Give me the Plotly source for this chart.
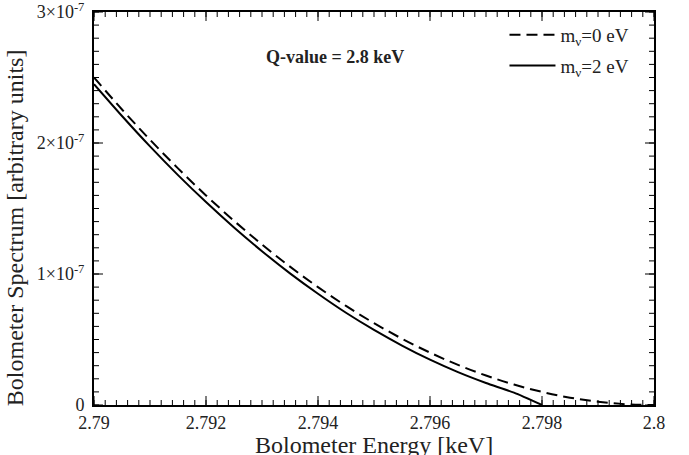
import numpy as np
import plotly.graph_objects as go

# Bolometer energy grid [keV]
energy = [2.7900, 2.7905, 2.7910, 2.7915, 2.7920, 2.7925, 2.7930, 2.7935, 2.7940,
          2.7945, 2.7950, 2.7955, 2.7960, 2.7965, 2.7970, 2.7975, 2.7980, 2.7985,
          2.7990, 2.7995, 2.8000]

# Spectrum for a massless neutrino (arbitrary units)
spec_m0 = [2.500e-7, 2.256e-7, 2.025e-7, 1.806e-7, 1.600e-7, 1.406e-7, 1.225e-7,
           1.056e-7, 0.900e-7, 0.756e-7, 0.625e-7, 0.506e-7, 0.400e-7, 0.306e-7,
           0.225e-7, 0.156e-7, 0.100e-7, 0.056e-7, 0.025e-7, 0.006e-7, 0.0]

# Spectrum for m_nu = 2 eV, ending at Q - m_nu
energy_m2 = [2.7900, 2.7905, 2.7910, 2.7915, 2.7920, 2.7925, 2.7930, 2.7935, 2.7940,
             2.7945, 2.7950, 2.7955, 2.7960, 2.7965, 2.7970, 2.7975, 2.7980]
spec_m2 = [2.449e-7, 2.206e-7, 1.974e-7, 1.755e-7, 1.549e-7, 1.355e-7, 1.174e-7,
           1.005e-7, 0.849e-7, 0.704e-7, 0.573e-7, 0.454e-7, 0.346e-7, 0.251e-7,
           0.168e-7, 0.094e-7, 0.0]

x_ticks = [2.790, 2.792, 2.794, 2.796, 2.798, 2.800]
x_labels = ["2.79", "2.792", "2.794", "2.796", "2.798", "2.8"]
y_ticks = [0, 1e-7, 2e-7, 3e-7]
y_labels = ["0", "1×10<sup>-7</sup>", "2×10<sup>-7</sup>", "3×10<sup>-7</sup>"]

FONT = "Liberation Serif"
TXT = "#222222"
MAJOR_LEN, MINOR_LEN = 9, 5

fig = go.Figure()
fig.add_trace(go.Scatter(
    x=energy, y=spec_m0, mode="lines", name="m<sub>ν</sub>=0 eV",
    legendgroup="a",
    line=dict(color="black", width=2, dash="11px,6px", shape="spline"),
))
fig.add_trace(go.Scatter(
    x=energy_m2, y=spec_m2, mode="lines", name="m<sub>ν</sub>=2 eV",
    legendgroup="b",
    line=dict(color="black", width=2, shape="spline", smoothing=0.6),
))

# Inward-pointing tick marks on all four sides of the frame
x_minor = np.linspace(x_ticks[0], x_ticks[-1], 5 * 10 + 1)
y_minor = np.linspace(y_ticks[0], y_ticks[-1], 3 * 10 + 1)
tick_line = dict(color="black", width=1)
shapes = []
for vals, length in ((x_minor, MINOR_LEN), (x_ticks, MAJOR_LEN)):
    for v in vals:
        for anchor, sign in ((0, 1), (1, -1)):
            shapes.append(dict(type="line", xref="x", yref="paper", x0=v, x1=v,
                               ysizemode="pixel", yanchor=anchor, y0=0, y1=sign * length,
                               line=tick_line, layer="above"))
for vals, length in ((y_minor, MINOR_LEN), (y_ticks, MAJOR_LEN)):
    for v in vals:
        for anchor, sign in ((0, 1), (1, -1)):
            shapes.append(dict(type="line", yref="y", xref="paper", y0=v, y1=v,
                               xsizemode="pixel", xanchor=anchor, x0=0, x1=sign * length,
                               line=tick_line, layer="above"))

axis_style = dict(showgrid=False, zeroline=False, showline=True, linecolor="black",
                  linewidth=2, mirror=True, ticks="", automargin=False,
                  ticklabeloverflow="allow",
                  tickfont=dict(family=FONT, size=18, color=TXT))

fig.update_layout(
    width=689, height=455,
    margin=dict(l=94, r=35, t=12, b=50),
    plot_bgcolor="white", paper_bgcolor="white",
    font=dict(family=FONT, size=18, color=TXT),
    xaxis=dict(range=[2.79, 2.8], tickmode="array", tickvals=x_ticks, ticktext=x_labels,
               ticklabelstandoff=0, **axis_style),
    yaxis=dict(range=[0, 3e-7], tickmode="array", tickvals=y_ticks, ticktext=y_labels,
               ticklabelstandoff=4, **axis_style),
    shapes=shapes,
    showlegend=True,
    legend=dict(x=0.733, y=0.99, xanchor="left", yanchor="top", tracegroupgap=3,
                itemwidth=46,
                bgcolor="rgba(0,0,0,0)", font=dict(family=FONT, size=19, color=TXT)),
    annotations=[
        dict(x=0.431, y=0.8855, xref="paper", yref="paper", xanchor="center",
             yanchor="middle", showarrow=False,
             text="<b>Q-value = 2.8 keV</b>", font=dict(family=FONT, size=18, color=TXT)),
        dict(x=0.5, y=0, xref="paper", yref="paper", yanchor="middle", yshift=-40,
             showarrow=False, text="Bolometer Energy [keV]",
             font=dict(family=FONT, size=24, color=TXT)),
        dict(x=0, y=0.45, xref="paper", yref="paper", xanchor="center", yanchor="middle",
             xshift=-79, textangle=-90, showarrow=False,
             text="Bolometer Spectrum [arbitrary units]",
             font=dict(family=FONT, size=24, color=TXT)),
    ],
)

fig.write_html("out.html")
